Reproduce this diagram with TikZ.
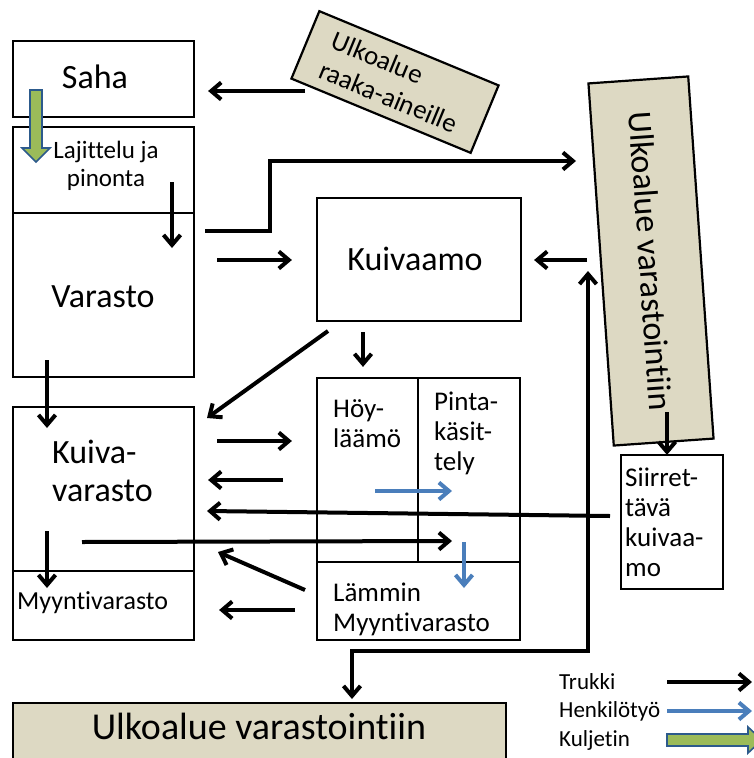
\documentclass[tikz,border=0pt]{standalone}
\usepackage{fontspec}
\setmainfont[Ligatures={NoCommon,NoRequired,NoContextual},RawFeature={-liga;-clig;-dlig}]{Carlito}
\usetikzlibrary{arrows.meta}
\definecolor{ulkotan}{HTML}{DDD9C3}
\definecolor{henkblue}{HTML}{4A7EBB}
\definecolor{kuljgreen}{HTML}{9BBB59}
\definecolor{kuljedge}{HTML}{2C5A8C}
\def\fsbig{\fontsize{34}{38}\selectfont}
\def\fsmid{\fontsize{27}{30}\selectfont}
\def\fssmall{\fontsize{23}{26}\selectfont}
\tikzset{
  >={Straight Barb[length=10pt,width=17pt]},
  box/.style={draw, line width=2.2pt, inner sep=0pt},
  ulko/.style={box, fill=ulkotan},
  txt/.style={inner sep=0pt, align=left, anchor=north west},
  trukki/.style={line width=4pt, ->},
  henkilo/.style={line width=4pt, draw=henkblue, ->},
  kuljetin/.style={fill=kuljgreen, draw=kuljedge, line width=1.6pt, line join=miter}
}

\begin{document}
\begin{tikzpicture}[x=1pt,y=-1pt]
  \useasboundingbox (0,0) rectangle (754,758);
  % left column
  \node[box, minimum width=181, minimum height=76] (saha) at (103.5,79) {};
  \node[box, minimum width=181, minimum height=86] (lajit) at (103.5,170) {};
  \node[box, minimum width=181, minimum height=164] (varasto) at (103.5,295) {};
  \node[box, minimum width=181, minimum height=164] (kvarasto) at (103.5,489) {};
  \node[box, minimum width=181, minimum height=69] (myynti) at (103.5,605.5) {};
  \node[font=\fsbig] (sahatxt) at (95,77) {Saha};
  \node[font=\fontsize{25}{28}\selectfont, align=center] (lajittxt) at (106,166) {Lajittelu ja\\pinonta};
  \node[font=\fsbig] (varastotxt) at (103,297) {Varasto};
  \node[txt, font=\fsbig] (kvartxt) at (52,440) {Kuiva-\\varasto};
  \node[font=\fontsize{26}{30}\selectfont, anchor=west, inner sep=0pt] (myyntitxt) at (17,603) {Myyntivarasto};
  % middle
  \node[box, minimum width=204, minimum height=123] (kuivaamo) at (419,259.5) {};
  \node[font=\fsbig] (kuivaamotxt) at (415,259) {Kuivaamo};
  \node[box, minimum width=101, minimum height=184] (hoyl) at (367.5,470) {};
  \node[box, minimum width=102, minimum height=184] (pinta) at (469,470) {};
  \node[box, minimum width=203, minimum height=78] (lammin) at (418.5,601) {};
  \node[txt, font=\fsmid] (hoyltxt) at (333,399) {Höy-\\läämö};
  \node[txt, font=\fsmid] (pintatxt) at (434,392) {Pinta-\\käsit-\\tely};
  \node[txt, font=\fsmid] (lammintxt) at (333,583) {Lämmin\\Myyntivarasto};
  % outdoor areas
  \node[ulko, minimum width=194, minimum height=73, rotate=-22.5, font=\fontsize{27}{32}\selectfont, align=left] (raaka) at (395,82) {Ulkoalue\\raaka-aineille};
  \node[ulko, minimum width=363, minimum height=100, rotate=-86, font=\fsbig] (ulkooik) at (651,261) {Ulkoalue varastointiin};
  \node[ulko, minimum width=493, minimum height=87] (ulkoala) at (259.5,746.5) {};
  \node[font=\fontsize{38}{42}\selectfont] (ulkoalatxt) at (259,726) {Ulkoalue varastointiin};
  \node[box, minimum width=102, minimum height=134] (siirr) at (672,522) {};
  \node[txt, font=\fsmid] (siirrtxt) at (625,468) {Siirret-\\tävä\\kuivaa-\\mo};
  % conveyor
  \draw[kuljetin] (30,90) -- (42,90) -- (42,148) -- (50,148) -- (36,162) -- (22,148) -- (30,148) -- cycle;
  % forklift routes
  \coordinate (r1) at (305,91);
  \draw[trukki, shorten >=13pt] (r1) -- (saha.east |- r1);
  \coordinate (l1) at (172,182);
  \coordinate (l2) at (172,248);
  \draw[trukki] (l1) -- (l2);
  \coordinate (s1) at (205,231);
  \coordinate (s2) at (576,161);
  \draw[line width=4pt, ->, line join=miter] (s1) -- (270,231) -- (270,161) -- (s2);
  \coordinate (k1) at (217,260);
  \draw[trukki, shorten >=24pt] (k1) -- (kuivaamo.west |- k1);
  \coordinate (k2) at (587,260);
  \draw[trukki, shorten >=12pt] (k2) -- (kuivaamo.east |- k2);
  \coordinate (p1) at (588,271);
  \coordinate (p2) at (352,699);
  \draw[trukki, <->, line join=miter] (p1) -- (588,651) -- (352,651) -- (p2);
  \coordinate (d1) at (363,332);
  \draw[trukki, shorten >=10pt] (d1) -- (d1 |- hoyl.north);
  \coordinate (d2) at (328,331);
  \coordinate (d3) at (207,418);
  \draw[trukki] (d2) -- (d3);
  \coordinate (v1) at (47,360);
  \coordinate (v2) at (47,428);
  \draw[trukki] (v1) -- (v2);
  \coordinate (h1) at (217,441);
  \draw[trukki, shorten >=24pt] (h1) -- (hoyl.west |- h1);
  \coordinate (h2) at (283,480);
  \draw[trukki, shorten >=13pt] (h2) -- (kvarasto.east |- h2);
  \coordinate (h3) at (610,516);
  \coordinate (h4) at (207,511);
  \draw[trukki] (h3) -- (h4);
  \coordinate (h5) at (82,542);
  \coordinate (h6) at (452,541);
  \draw[trukki] (h5) -- (h6);
  \coordinate (v3) at (47,531);
  \coordinate (v4) at (47,588);
  \draw[trukki] (v3) -- (v4);
  \coordinate (h7) at (305,590);
  \coordinate (h8) at (218,552);
  \draw[trukki] (h7) -- (h8);
  \coordinate (h9) at (295,610);
  \draw[trukki, shorten >=24pt] (h9) -- (myynti.east |- h9);
  \coordinate (u1) at (667,412);
  \draw[trukki, shorten >=-1pt] (u1) -- (u1 |- siirr.north);
  % personnel
  \coordinate (b1) at (375,491);
  \coordinate (b2) at (452,491);
  \draw[henkilo] (b1) -- (b2);
  \coordinate (b3) at (464,542);
  \coordinate (b4) at (464,588);
  \draw[henkilo] (b3) -- (b4);
  % legend
  \node[font=\fssmall, anchor=west, inner sep=0pt] (legtrukki) at (559,682) {Trukki};
  \node[font=\fssmall, anchor=west, inner sep=0pt] (leghenk) at (559,711) {Henkilötyö};
  \node[font=\fssmall, anchor=west, inner sep=0pt] (legkulj) at (559,740) {Kuljetin};
  \coordinate (e1) at (667,682);
  \coordinate (e2) at (752,682);
  \draw[trukki] (e1) -- (e2);
  \coordinate (e3) at (667,711);
  \coordinate (e4) at (752,711);
  \draw[henkilo] (e3) -- (e4);
  \draw[kuljetin] (667,734) -- (748,734) -- (748,727) -- (762,740) -- (748,753) -- (748,746) -- (667,746) -- cycle;
\end{tikzpicture}
\end{document}
